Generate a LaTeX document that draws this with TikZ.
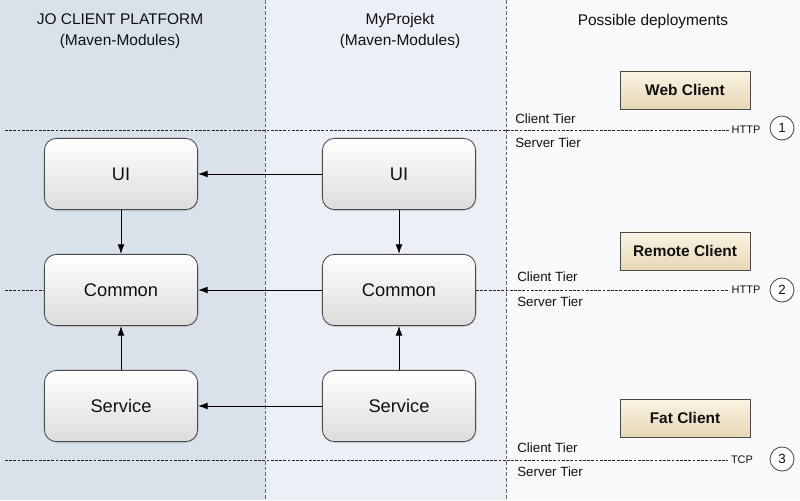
\documentclass[tikz,border=0pt]{standalone}
\usepackage{fontspec}
\setmainfont{Liberation Sans}
\usetikzlibrary{arrows.meta,shadows}
\definecolor{dpPlatform}{HTML}{D9E1EA}
\definecolor{dpProject}{HTML}{ECF0F6}
\definecolor{dpDeploy}{HTML}{F8FAFC}
\definecolor{dpInk}{HTML}{111111}
\definecolor{dpEdge}{HTML}{4A4A4A}
\definecolor{dpCreamTop}{HTML}{FBF4E3}
\definecolor{dpCreamBot}{HTML}{E6D7B6}
\tikzset{
  dp diagram/.style={x=0.025cm, y=-0.025cm, text=dpInk},
  dp heading/.style={align=center, font=\fontsize{11}{14.9}\selectfont},
  dp module/.style={draw=dpEdge, line width=0.6pt, rounded corners=0.3cm,
    top color=white, bottom color=black!14, minimum width=3.83cm,
    minimum height=1.78cm, font=\fontsize{13}{15}\selectfont,
    drop shadow={opacity=0.3, shadow xshift=0.5pt, shadow yshift=-0.8pt}},
  dp client/.style={draw=dpEdge, line width=0.6pt, top color=dpCreamTop,
    bottom color=dpCreamBot, minimum width=3.25cm, minimum height=0.95cm,
    font=\bfseries\fontsize{11}{13}\selectfont,
    drop shadow={opacity=0.25, shadow xshift=0.5pt, shadow yshift=-0.6pt}},
  dp arrow/.style={-{Latex[length=2.4mm,width=1.7mm]}, draw=black, line width=0.6pt},
  dp column/.style={draw=black!60, line width=0.6pt, dash pattern=on 2.5pt off 1.5pt},
  dp tier/.style={draw=black!85, line width=0.5pt, dash pattern=on 2pt off 1pt},
  dp tier label/.style={anchor=west, inner sep=0pt, font=\fontsize{9.5}{11}\selectfont},
  dp protocol/.style={inner sep=2pt, font=\fontsize{7.8}{9}\selectfont},
  dp number/.style={circle, draw=dpEdge, fill=white, line width=0.6pt,
    minimum size=0.6cm, inner sep=0pt, font=\fontsize{9.5}{11}\selectfont,
    drop shadow={opacity=0.25, shadow xshift=0.4pt, shadow yshift=-0.5pt}}
}
\begin{document}
\begin{tikzpicture}[dp diagram]
% columns
\fill[dpPlatform] (0,0) rectangle (265,500);
\fill[dpProject] (265,0) rectangle (506,500);
\fill[dpDeploy] (506,0) rectangle (800,500);
\useasboundingbox (0,0) rectangle (800,500);

\node[dp heading] (platform) at (120,31) {JO CLIENT PLATFORM\\(Maven-Modules)};
\node[dp heading] (project) at (400,31) {MyProjekt\\(Maven-Modules)};
\node[dp heading] (deploy) at (653,21) {Possible deployments};

% tier borders
\coordinate (tier1) at (5,130);
\coordinate (tier2) at (5,290);
\coordinate (tier3) at (5,460);
\node[dp protocol] (http1) at (746,130) {HTTP};
\node[dp protocol] (http2) at (746,290) {HTTP};
\node[dp protocol] (tcp3) at (742,460) {TCP};
\node[dp number] (num1) at (782,128) {1};
\node[dp number] (num2) at (782,290) {2};
\node[dp number] (num3) at (782,459) {3};

\coordinate (colA top) at (265,0);
\coordinate (colA bot) at (265,500);
\coordinate (colB top) at (506,0);
\coordinate (colB bot) at (506,500);
\draw[dp column] (colA top) -- (colA bot);
\draw[dp column] (colB top) -- (colB bot);

% modules
\node[dp module] (uiL) at (121,174) {UI};
\node[dp module] (uiM) at (399,174) {UI};
\node[dp module] (commonL) at (121,290) {Common};
\node[dp module] (commonM) at (399,290) {Common};
\node[dp module] (serviceL) at (121,406) {Service};
\node[dp module] (serviceM) at (399,406) {Service};

\draw[dp tier] (tier1) -- (http1);
\draw[dp tier] (tier2) -- (commonL);
\draw[dp tier] (commonM) -- (http2);
\draw[dp tier] (tier3) -- (tcp3);

\draw[dp arrow] (uiM) -- (uiL);
\draw[dp arrow] (uiL) -- (commonL);
\draw[dp arrow] (uiM) -- (commonM);
\draw[dp arrow] (commonM) -- (commonL);
\draw[dp arrow] (serviceL) -- (commonL);
\draw[dp arrow] (serviceM) -- (commonM);
\draw[dp arrow] (serviceM) -- (serviceL);

% deployments
\node[dp client] (web) at (685,90) {Web Client};
\node[dp client] (remote) at (685,251) {Remote Client};
\node[dp client] (fat) at (685,418) {Fat Client};

\node[dp tier label] (client1) at (515,119) {Client Tier};
\node[dp tier label] (server1) at (515,143) {Server Tier};
\node[dp tier label] (client2) at (517,277) {Client Tier};
\node[dp tier label] (server2) at (517,302) {Server Tier};
\node[dp tier label] (client3) at (517,448) {Client Tier};
\node[dp tier label] (server3) at (517,472) {Server Tier};
\end{tikzpicture}
\end{document}
